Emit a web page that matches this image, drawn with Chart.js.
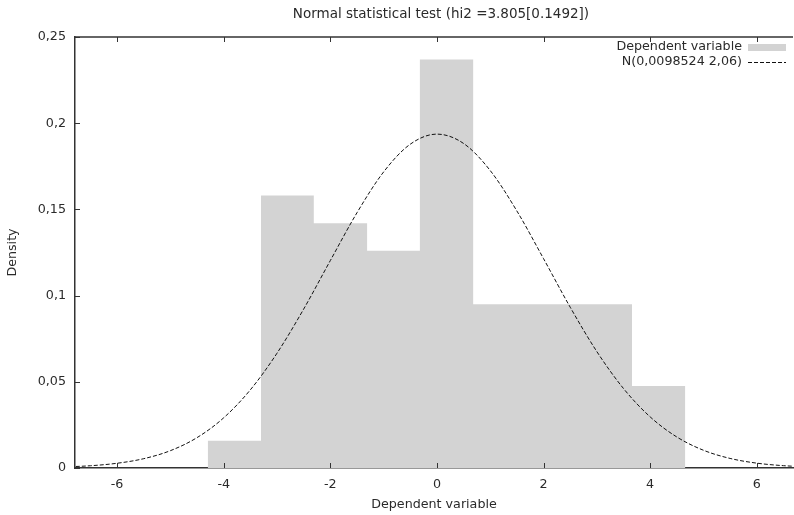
<!DOCTYPE html>
<html>
<head>
<meta charset="utf-8">
<script src="https://cdn.jsdelivr.net/npm/chart.js@4/dist/chart.umd.min.js"></script>
<style>
  html, body { margin: 0; padding: 0; background: #fff; }
  #wrap { width: 794px; height: 515px; }
</style>
</head>
<body>
<div id="wrap"><canvas id="chart" width="794" height="515"></canvas></div>
<script>
// histogram bins (edges) and densities
const binEdges  = [-4.30, -3.30, -2.31, -1.31, -0.32, 0.68, 1.67, 2.67, 3.66, 4.66];
const densities = [0.0158, 0.158, 0.142, 0.126, 0.237, 0.095, 0.095, 0.095, 0.0475];

// normal curve N(0,0098524 2,06), sampled every 0.5
const curveX = [-7, -6.5, -6, -5.5, -5, -4.5, -4, -3.5, -3, -2.5, -2, -1.5, -1, -0.5, 0,
                0.5, 1, 1.5, 2, 2.5, 3, 3.5, 4, 4.5, 5, 5.5, 6, 6.5, 7];
const curveY = [0.00059, 0.00131, 0.00275, 0.00541, 0.01006, 0.01763, 0.02913, 0.04536,
                0.06660, 0.09219, 0.12032, 0.14805, 0.17173, 0.18782, 0.19366, 0.18825,
                0.17253, 0.14908, 0.12144, 0.09327, 0.06753, 0.04610, 0.02967, 0.01800,
                0.01030, 0.00555, 0.00282, 0.00135, 0.00061];

const xTicks = [-6, -4, -2, 0, 2, 4, 6];
const yTicks = [0, 0.05, 0.1, 0.15, 0.2, 0.25];

const titleText  = 'Normal statistical test (hi2 =3.805[0.1492])';
const legendHist = 'Dependent variable';
const legendNorm = 'N(0,0098524 2,06)';

const FONT     = 'DejaVu Sans';
const FS       = 12.7;
const TXT      = '#2a2a2a';
const AXIS     = '#333';
const BAR_FILL = '#d3d3d3';

const histPoints = [{ x: binEdges[0], y: 0 }];
densities.forEach((d, i) => histPoints.push({ x: binEdges[i], y: d }));
histPoints.push({ x: binEdges[binEdges.length - 1], y: 0 });

const curvePoints = curveX.map((x, i) => ({ x, y: curveY[i] }));

const fmt = v => String(+v.toFixed(2)).replace('.', ',');

// title, legend, top border and inward ticks
const decor = {
  id: 'decor',
  afterDraw(chart) {
    const { ctx, chartArea: a, scales: { x, y } } = chart;
    ctx.save();

    ctx.strokeStyle = AXIS;
    ctx.lineWidth = 1.5;
    ctx.beginPath();
    ctx.moveTo(a.left, a.top);
    ctx.lineTo(a.right, a.top);
    ctx.stroke();

    ctx.lineWidth = 1;
    ctx.beginPath();
    xTicks.forEach(t => {
      const px = Math.round(x.getPixelForValue(t)) + 0.5;
      ctx.moveTo(px, a.bottom);
      ctx.lineTo(px, a.bottom - 5);
      ctx.moveTo(px, a.top);
      ctx.lineTo(px, a.top + 5);
    });
    yTicks.forEach(t => {
      const py = Math.round(y.getPixelForValue(t)) + 0.5;
      ctx.moveTo(a.left, py);
      ctx.lineTo(a.left + 5, py);
    });
    ctx.stroke();

    ctx.fillStyle = TXT;
    ctx.textBaseline = 'middle';
    ctx.textAlign = 'center';
    ctx.font = `13.5px "${FONT}"`;
    ctx.fillText(titleText, 441, 14);

    ctx.font = `${FS}px "${FONT}"`;
    ctx.textAlign = 'right';
    ctx.fillText(legendHist, 742, 47);
    ctx.fillText(legendNorm, 742, 62);

    ctx.fillStyle = BAR_FILL;
    ctx.fillRect(748, 44, 38, 7);

    ctx.strokeStyle = '#111';
    ctx.setLineDash([4, 2]);
    ctx.beginPath();
    ctx.moveTo(748, 62.5);
    ctx.lineTo(786, 62.5);
    ctx.stroke();

    ctx.restore();
  }
};

new Chart(document.getElementById('chart'), {
  type: 'scatter',
  data: {
    datasets: [
      {
        label: legendNorm,
        data: curvePoints,
        showLine: true,
        borderColor: '#111',
        borderWidth: 1,
        borderDash: [4, 2],
        pointRadius: 0,
        cubicInterpolationMode: 'monotone',
        fill: false,
        order: 0
      },
      {
        label: legendHist,
        data: histPoints,
        showLine: true,
        stepped: 'before',
        borderWidth: 0,
        borderColor: BAR_FILL,
        backgroundColor: BAR_FILL,
        pointRadius: 0,
        fill: 'origin',
        order: 1
      }
    ]
  },
  options: {
    responsive: false,
    animation: false,
    layout: { padding: { top: 37, right: 1, left: 0, bottom: 0 } },
    plugins: {
      legend: { display: false },
      title: { display: false },
      tooltip: { enabled: false }
    },
    scales: {
      x: {
        type: 'linear',
        min: -6.79,
        max: 6.68,
        afterFit: s => { s.height = 47; },
        grid: { display: false, drawTicks: false },
        border: { display: true, color: AXIS, width: 1.5 },
        ticks: {
          stepSize: 2,
          includeBounds: false,
          padding: 9,
          color: TXT,
          font: { family: FONT, size: FS },
          callback: v => fmt(v)
        },
        title: {
          display: true,
          text: 'Dependent variable',
          color: TXT,
          font: { family: FONT, size: FS },
          padding: { top: 0, bottom: 2.5 }
        }
      },
      y: {
        min: 0,
        max: 0.25,
        afterFit: s => { s.width = 75; },
        grid: { display: false, drawTicks: false },
        border: { display: true, color: AXIS, width: 1.5 },
        ticks: {
          stepSize: 0.05,
          padding: 9,
          color: TXT,
          font: { family: FONT, size: FS },
          callback: v => fmt(v)
        },
        title: {
          display: true,
          text: 'Density',
          color: TXT,
          font: { family: FONT, size: FS },
          padding: { top: 5, bottom: 0 }
        }
      }
    }
  },
  plugins: [decor]
});
</script>
</body>
</html>
